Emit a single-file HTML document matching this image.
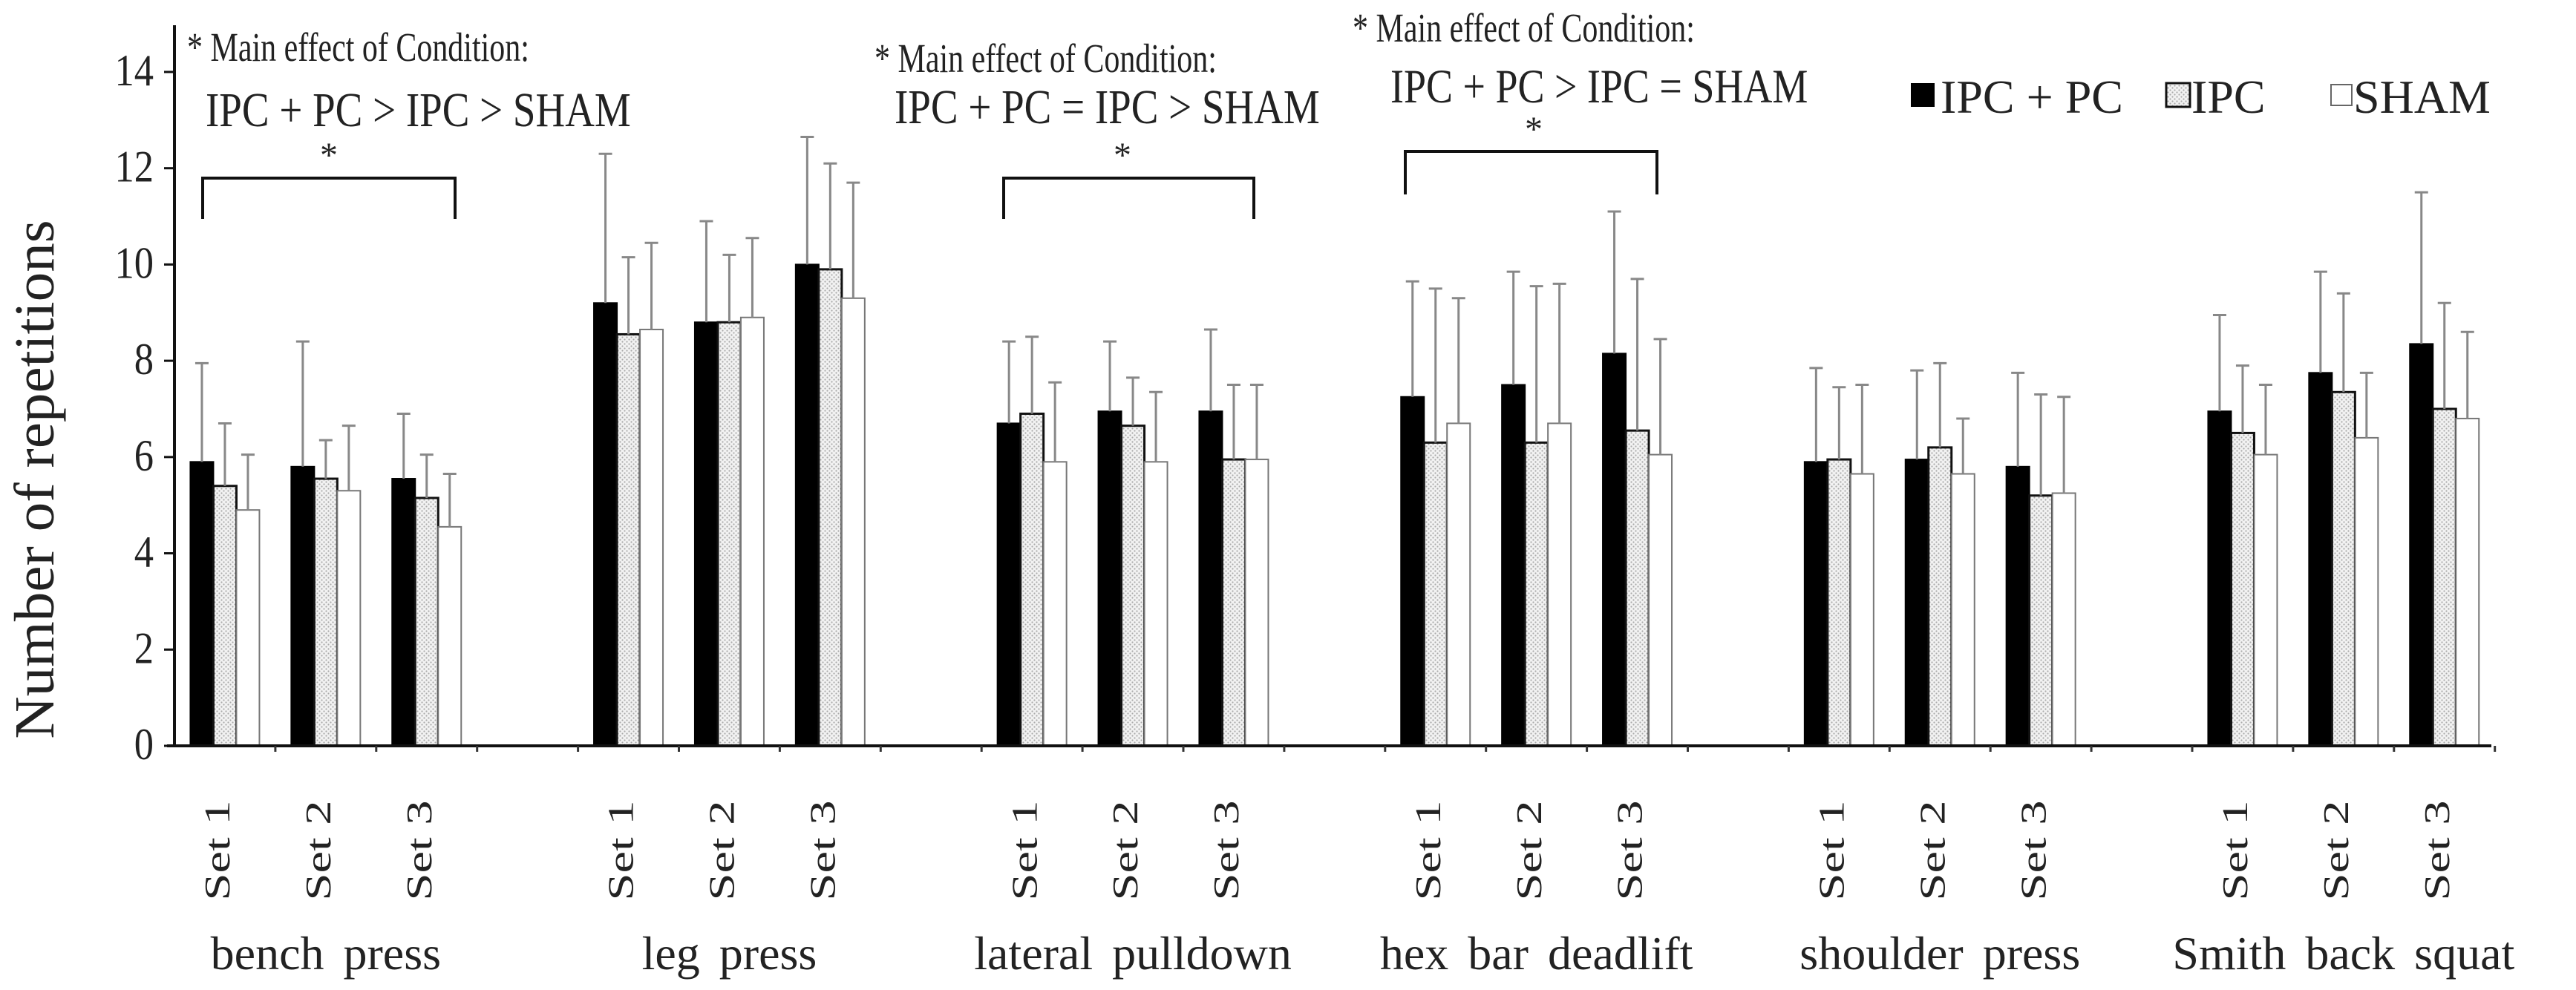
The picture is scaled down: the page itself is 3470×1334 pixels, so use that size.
<!DOCTYPE html>
<html><head><meta charset="utf-8">
<style>
html,body{margin:0;padding:0;background:#fff;}
svg{display:block;font-family:"Liberation Serif",serif;}
</style></head>
<body>
<svg id="chart" width="3470" height="1334" viewBox="0 0 3470 1334" xmlns="http://www.w3.org/2000/svg">
<defs>
<pattern id="dots" width="6" height="6" patternUnits="userSpaceOnUse">
<rect width="6" height="6" fill="#f2f2f2"/>
<circle cx="1.5" cy="1.5" r="1.1" fill="#aaa"/>
<circle cx="4.5" cy="4.5" r="1.1" fill="#aaa"/>
</pattern>
</defs>
<g id="grid"></g>
<g id="marks"></g>
<g id="axes"></g>
<text transform="translate(72,646) rotate(-90) scale(1.2,1.15)" text-anchor="middle" font-size="66" fill="#222">Number of repetitions</text>

<g fill="#222">
<text transform="translate(252,82) scale(1,1.3)" font-size="42">* Main effect of Condition:</text>
<text transform="translate(277,170) scale(1,1.2)" font-size="55">IPC + PC &gt; IPC &gt; SHAM</text>
<text x="443" y="225" text-anchor="middle" font-size="48">*</text>
<path d="M273,295 V240 H613 V295" fill="none" stroke="#111" stroke-width="4"/>
</g>
<g fill="#222">
<text transform="translate(1178,97) scale(1,1.3)" font-size="42">* Main effect of Condition:</text>
<text transform="translate(1205,166) scale(1,1.2)" font-size="55">IPC + PC =  IPC &gt; SHAM</text>
<text x="1512" y="225" text-anchor="middle" font-size="48">*</text>
<path d="M1352,295 V240 H1689 V295" fill="none" stroke="#111" stroke-width="4"/>
</g>
<g fill="#222">
<text transform="translate(1822,56) scale(1,1.3)" font-size="42">* Main effect of Condition:</text>
<text transform="translate(1873,138) scale(1,1.2)" font-size="54">IPC + PC &gt; IPC = SHAM</text>
<text x="2066" y="190" text-anchor="middle" font-size="48">*</text>
<path d="M1893,262 V204 H2232 V262" fill="none" stroke="#111" stroke-width="4"/>
</g>

<g font-size="64" fill="#222">
<g>
<rect x="2574" y="112" width="32" height="32" fill="#000"/>
<text x="2614" y="152">IPC + PC</text></g>
<g>
<rect x="2918" y="112" width="32" height="32" fill="url(#dots)" stroke="#111" stroke-width="3"/>
<text x="2952" y="152">IPC</text></g>
<g>
<rect x="3140" y="114" width="28" height="28" fill="#fff" stroke="#666" stroke-width="2"/>
<text x="3170" y="152">SHAM</text></g>
</g>
</svg>
<script>
const groups = ["bench press","leg press","lateral pulldown","hex bar deadlift","shoulder press","Smith back squat"];
const sets = ["Set 1","Set 2","Set 3"];
const ipcpc = [5.9,5.8,5.55, 9.2,8.8,10.0, 6.7,6.95,6.95, 7.25,7.5,8.15, 5.9,5.95,5.8, 6.95,7.75,8.35];
const ipc   = [5.4,5.55,5.15, 8.55,8.8,9.9, 6.9,6.65,5.95, 6.3,6.3,6.55, 5.95,6.2,5.2, 6.5,7.35,7.0];
const sham  = [4.9,5.3,4.55, 8.65,8.9,9.3, 5.9,5.9,5.95, 6.7,6.7,6.05, 5.65,5.65,5.25, 6.05,6.4,6.8];
const ipcpcTop = [7.95,8.4,6.9, 12.3,10.9,12.65, 8.4,8.4,8.65, 9.65,9.85,11.1, 7.85,7.8,7.75, 8.95,9.85,11.5];
const ipcTop   = [6.7,6.35,6.05, 10.15,10.2,12.1, 8.5,7.65,7.5, 9.5,9.55,9.7, 7.45,7.95,7.3, 7.9,9.4,9.2];
const shamTop  = [6.05,6.65,5.65, 10.45,10.55,11.7, 7.55,7.35,7.5, 9.3,9.6,8.45, 7.5,6.8,7.25, 7.5,7.75,8.6];
const yTicks = [0,2,4,6,8,10,12,14];

const NS="http://www.w3.org/2000/svg";
const X0=235, XEND=3356, Y0=1005, UNIT=64.86, SLOT=135.9, BW=31;
function yS(v){return Y0 - v*UNIT;}
function slotCenter(i){return X0 + SLOT*(i+0.5);}
function mk(tag,attrs,parent){const e=document.createElementNS(NS,tag);for(const k in attrs)e.setAttribute(k,attrs[k]);parent.appendChild(e);return e;}
const marks=document.getElementById('marks'), axes=document.getElementById('axes');

const series=[{v:ipcpc,t:ipcpcTop,fill:"#000",stroke:"#000",sw:2,name:"ipc-pc"},
              {v:ipc,t:ipcTop,fill:"url(#dots)",stroke:"#111",sw:3,name:"ipc"},
              {v:sham,t:shamTop,fill:"#fff",stroke:"#777",sw:2,name:"sham"}];
for(let g=0; g<groups.length; g++){
  for(let s=0; s<sets.length; s++){
    const idx=g*3+s, slot=g*4+s, c=slotCenter(slot);
    series.forEach((se,k)=>{
      const x=c-1.5*BW+k*BW, y=yS(se.v[idx]);
      const r=mk('rect',{x:x,y:y,width:BW,height:Y0-y,fill:se.fill,stroke:se.stroke,'stroke-width':se.sw},marks);
      
      
      const cx=x+BW/2, yt=yS(se.t[idx]);
      const eb=mk('path',{d:`M${cx},${y} V${yt} M${cx-9},${yt} H${cx+9}`,stroke:"#888",'stroke-width':3,fill:"none"},marks);
      
      
    });
    const t=mk('text',{transform:`translate(${c-10},1146) rotate(-90) scale(1.45,1.05)`,'text-anchor':'middle','font-size':46,fill:'#222','dominant-baseline':'central'},axes);
    t.textContent=sets[s];
    
    
  }
  const gl=mk('text',{x:slotCenter(g*4+1),y:1306,'text-anchor':'middle','font-size':64,fill:'#222','word-spacing':'10'},axes);
  gl.textContent=groups[g];
  
  
}
const ya=mk('line',{x1:X0,y1:34,x2:X0,y2:Y0,stroke:'#111','stroke-width':4},axes);


const xa=mk('line',{x1:X0-10,y1:Y0,x2:XEND,y2:Y0,stroke:'#111','stroke-width':4},axes);


for(let i=1;i<=23;i++){
  const tx=X0+SLOT*i;
  const tk=mk('line',{x1:tx,y1:Y0,x2:tx,y2:Y0+8,stroke:'#333','stroke-width':3},axes);
  
  
}
yTicks.forEach(v=>{
  const tk=mk('line',{x1:X0-14,y1:yS(v),x2:X0,y2:yS(v),stroke:'#111','stroke-width':3},axes);
  
  
  const t=mk('text',{transform:`translate(${X0-28},${yS(v)+18}) scale(1.05,1.2)`,'text-anchor':'end','font-size':50,fill:'#222'},axes);
  t.textContent=v;
  
  
});
</script>
</body></html>
